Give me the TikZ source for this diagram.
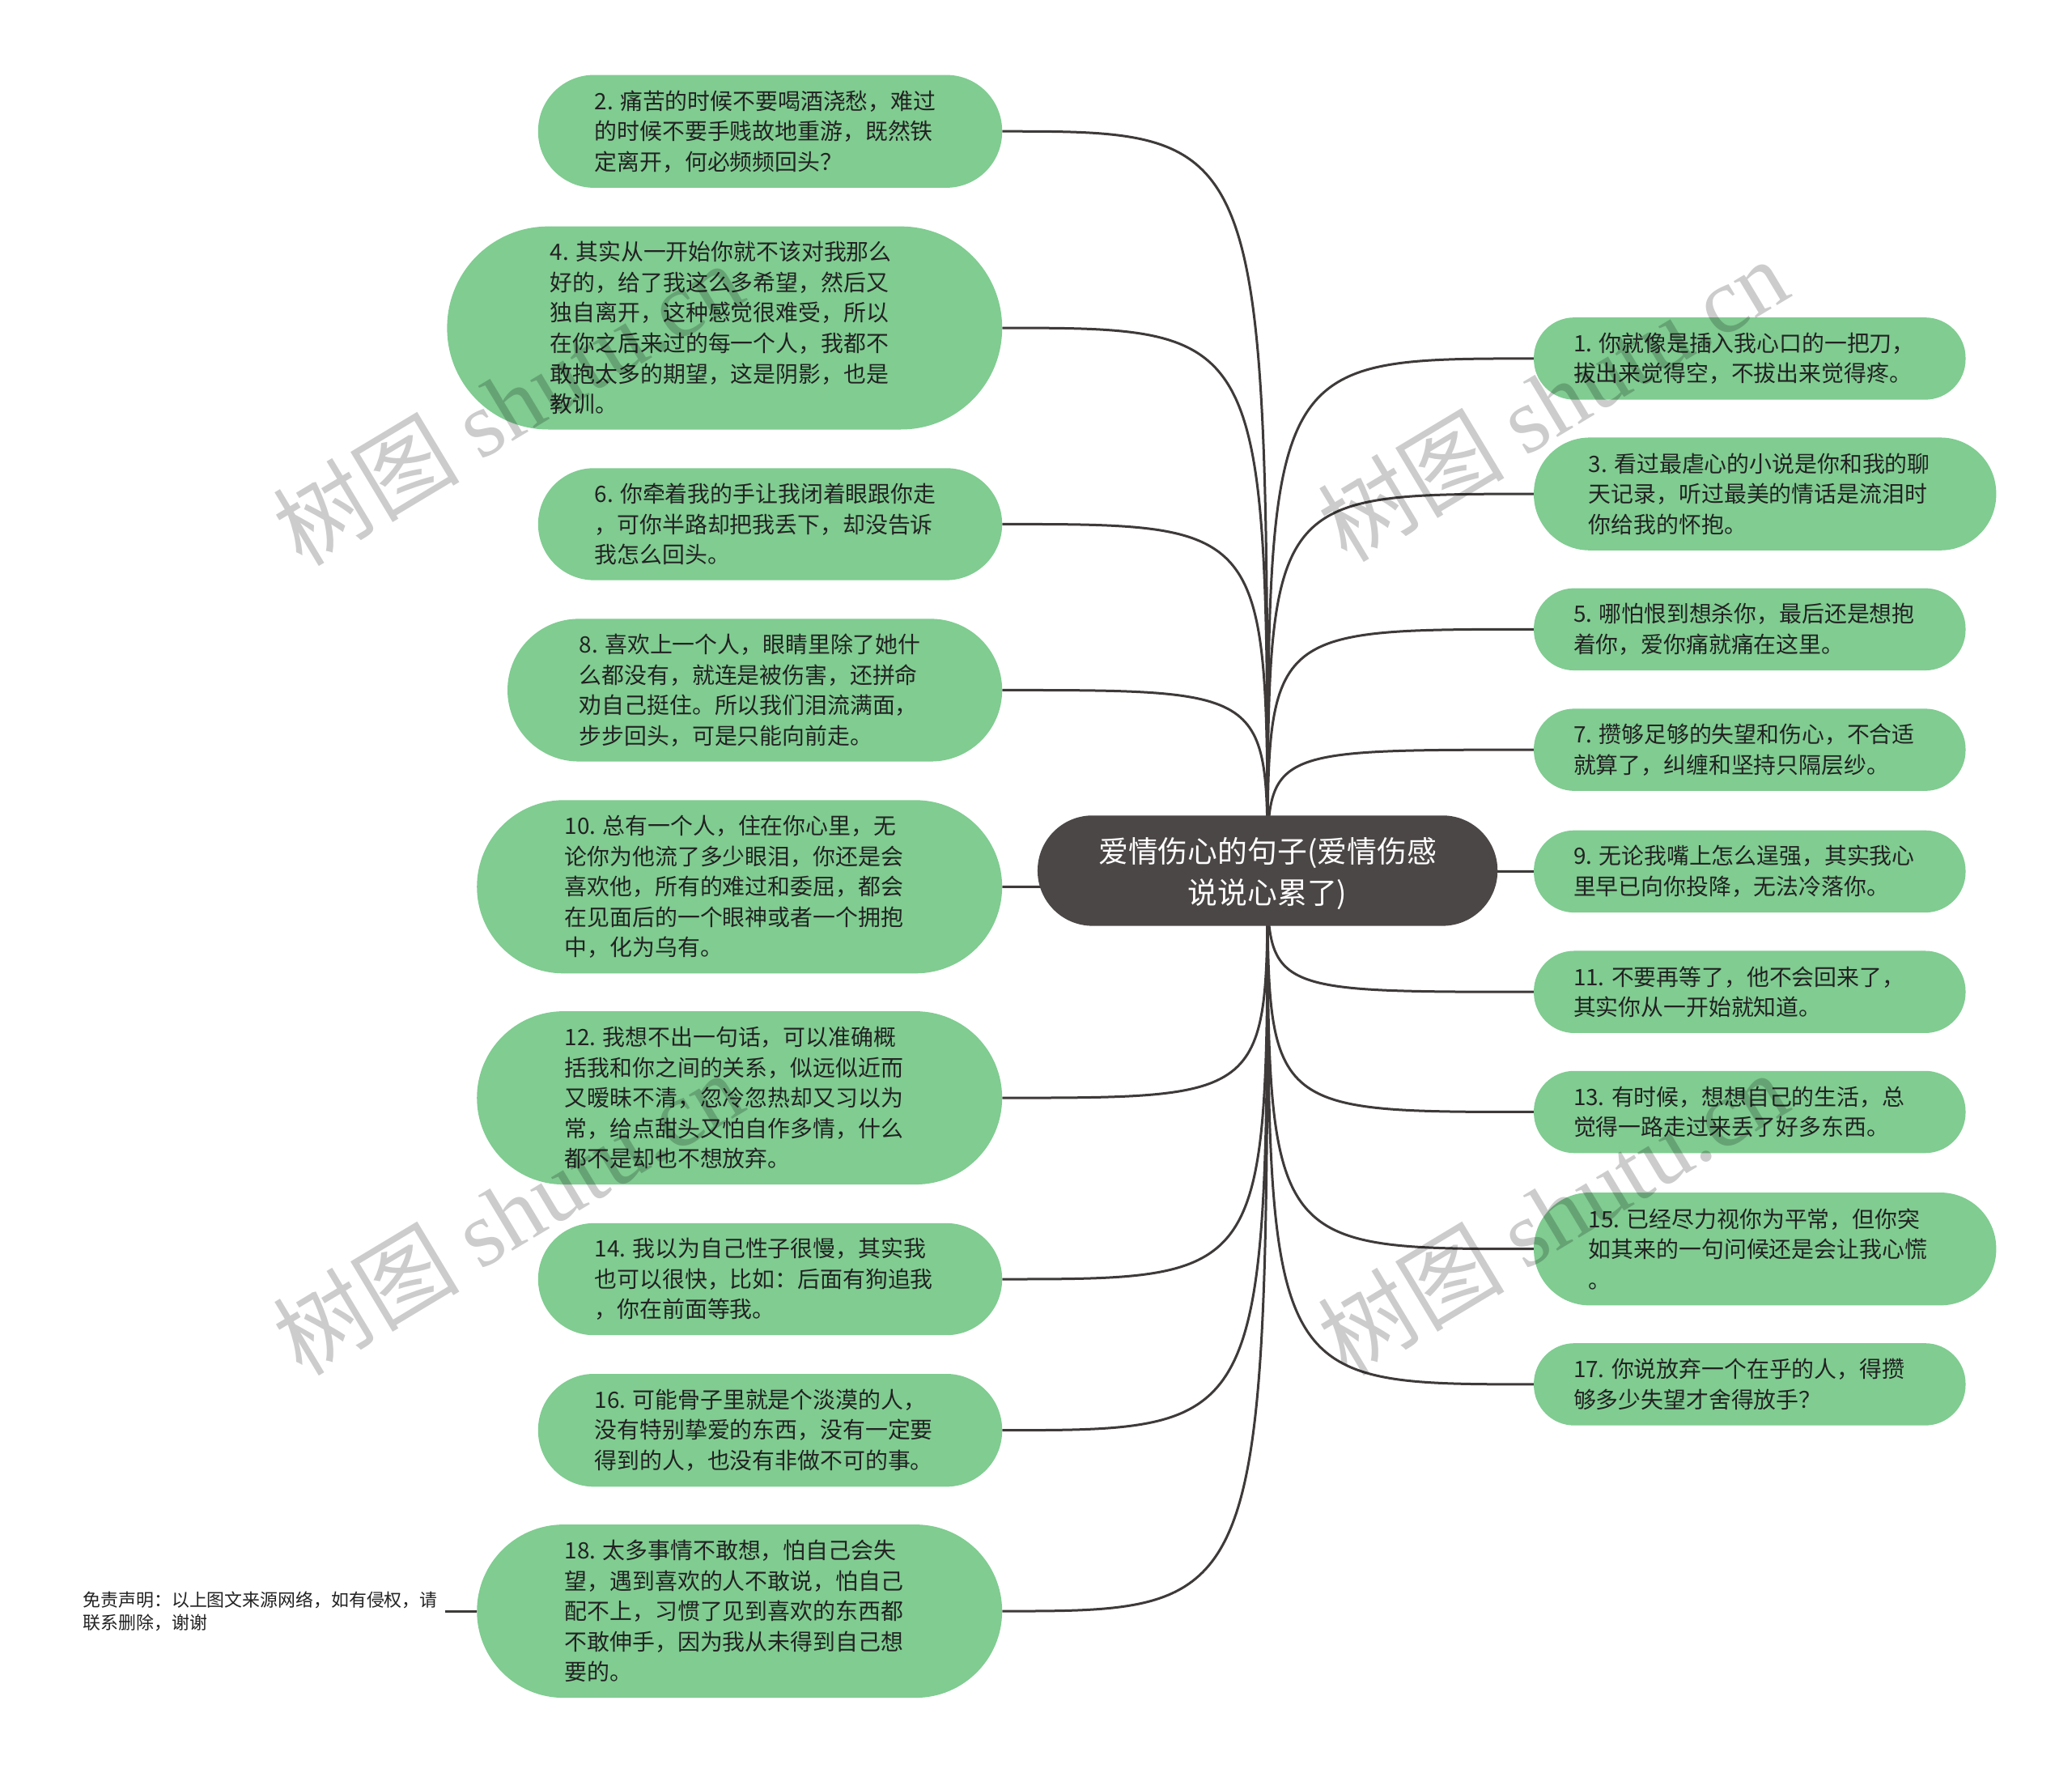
\documentclass[tikz,border=0pt]{standalone}
\usepackage{fontspec}
\setmainfont{Noto Sans CJK SC}
\newfontfamily\wmserif{Liberation Serif}
\usetikzlibrary{backgrounds}
\definecolor{leaf}{HTML}{80CC91}
\definecolor{rootc}{HTML}{4C4747}
\definecolor{linec}{HTML}{3E3A3A}
\definecolor{txtc}{HTML}{222222}
\begin{document}
\begin{tikzpicture}[x=1pt,y=-1pt, scale=0.9953, transform shape,
  leafbox/.style={fill=leaf, draw=none, inner sep=0pt},
  leaftxt/.style={anchor=west, align=left, inner sep=0pt, text=txtc, font=\fontsize{28pt}{37.7pt}\selectfont},
  rootbox/.style={fill=rootc, draw=none, inner sep=0pt, rounded corners=68pt, minimum width=571pt, minimum height=137pt},
  roottxt/.style={align=center, inner sep=0pt, text=white, font=\fontsize{37pt}{51pt}\selectfont},
  conn/.style={draw=linec, line width=3pt},
  disctxt/.style={anchor=west, align=left, inner sep=0pt, text=txtc, font=\fontsize{22pt}{28pt}\selectfont},
  wm/.style={anchor=base west, rotate=31, inner sep=0pt, text=black, text opacity=0.2, font=\fontsize{116pt}{116pt}\selectfont}
]
\useasboundingbox (0,0) rectangle (2572.1,2200.3);

% root
\node[rootbox] (root) at (1573.5,1080.5) {};
\node[roottxt] (troot) at (1573.5,1084) {爱情伤心的句子(爱情伤感\\说说心累了)};

% left nodes
\node[leafbox, minimum width=576pt, minimum height=140pt, rounded corners=69pt] (n2) at (956,163) {};
\node[leaftxt] (t2) at (738,163) {2. 痛苦的时候不要喝酒浇愁，难过\\的时候不要手贱故地重游，既然铁\\定离开，何必频频回头？};

\node[leafbox, minimum width=689pt, minimum height=252pt, rounded corners=125pt] (n4) at (899.5,407) {};
\node[leaftxt] (t4) at (683,407) {4. 其实从一开始你就不该对我那么\\好的，给了我这么多希望，然后又\\独自离开，这种感觉很难受，所以\\在你之后来过的每一个人，我都不\\敢抱太多的期望，这是阴影，也是\\教训。};

\node[leafbox, minimum width=576pt, minimum height=139pt, rounded corners=69pt] (n6) at (956,650.5) {};
\node[leaftxt] (t6) at (738,650.5) {6. 你牵着我的手让我闭着眼跟你走\\，可你半路却把我丢下，却没告诉\\我怎么回头。};

\node[leafbox, minimum width=614pt, minimum height=177pt, rounded corners=88pt] (n8) at (937,856.5) {};
\node[leaftxt] (t8) at (719,856.5) {8. 喜欢上一个人，眼睛里除了她什\\么都没有，就连是被伤害，还拼命\\劝自己挺住。所以我们泪流满面，\\步步回头，可是只能向前走。};

\node[leafbox, minimum width=652pt, minimum height=215pt, rounded corners=107pt] (n10) at (918,1100.5) {};
\node[leaftxt] (t10) at (701,1100.5) {10. 总有一个人，住在你心里，无\\论你为他流了多少眼泪，你还是会\\喜欢他，所有的难过和委屈，都会\\在见面后的一个眼神或者一个拥抱\\中，化为乌有。};

\node[leafbox, minimum width=652pt, minimum height=215pt, rounded corners=107pt] (n12) at (918,1362.5) {};
\node[leaftxt] (t12) at (701,1362.5) {12. 我想不出一句话，可以准确概\\括我和你之间的关系，似远似近而\\又暧昧不清，忽冷忽热却又习以为\\常，给点甜头又怕自作多情，什么\\都不是却也不想放弃。};

\node[leafbox, minimum width=576pt, minimum height=139pt, rounded corners=69pt] (n14) at (956,1587.5) {};
\node[leaftxt] (t14) at (738,1587.5) {14. 我以为自己性子很慢，其实我\\也可以很快，比如：后面有狗追我\\，你在前面等我。};

\node[leafbox, minimum width=576pt, minimum height=140pt, rounded corners=69pt] (n16) at (956,1775) {};
\node[leaftxt] (t16) at (738,1775) {16. 可能骨子里就是个淡漠的人，\\没有特别挚爱的东西，没有一定要\\得到的人，也没有非做不可的事。};

\node[leafbox, minimum width=652pt, minimum height=215pt, rounded corners=107pt] (n18) at (918,1999.5) {};
\node[leaftxt] (t18) at (701,1999.5) {18. 太多事情不敢想，怕自己会失\\望，遇到喜欢的人不敢说，怕自己\\配不上，习惯了见到喜欢的东西都\\不敢伸手，因为我从未得到自己想\\要的。};

% right nodes
\node[leafbox, minimum width=536pt, minimum height=102pt, rounded corners=50pt] (n1) at (2172,445) {};
\node[leaftxt] (t1) at (1953,445) {1. 你就像是插入我心口的一把刀，\\拔出来觉得空，不拔出来觉得疼。};

\node[leafbox, minimum width=574pt, minimum height=140pt, rounded corners=69pt] (n3) at (2191,613) {};
\node[leaftxt] (t3) at (1972,613) {3. 看过最虐心的小说是你和我的聊\\天记录，听过最美的情话是流泪时\\你给我的怀抱。};

\node[leafbox, minimum width=536pt, minimum height=102pt, rounded corners=50pt] (n5) at (2172,781) {};
\node[leaftxt] (t5) at (1953,781) {5. 哪怕恨到想杀你，最后还是想抱\\着你，爱你痛就痛在这里。};

\node[leafbox, minimum width=536pt, minimum height=102pt, rounded corners=50pt] (n7) at (2172,930.5) {};
\node[leaftxt] (t7) at (1953,930.5) {7. 攒够足够的失望和伤心，不合适\\就算了，纠缠和坚持只隔层纱。};

\node[leafbox, minimum width=536pt, minimum height=102pt, rounded corners=50pt] (n9) at (2172,1081.5) {};
\node[leaftxt] (t9) at (1953,1081.5) {9. 无论我嘴上怎么逞强，其实我心\\里早已向你投降，无法冷落你。};

\node[leafbox, minimum width=536pt, minimum height=102pt, rounded corners=50pt] (n11) at (2172,1231) {};
\node[leaftxt] (t11) at (1953,1231) {11. 不要再等了，他不会回来了，\\其实你从一开始就知道。};

\node[leafbox, minimum width=536pt, minimum height=102pt, rounded corners=50pt] (n13) at (2172,1380) {};
\node[leaftxt] (t13) at (1953,1380) {13. 有时候，想想自己的生活，总\\觉得一路走过来丢了好多东西。};

\node[leafbox, minimum width=574pt, minimum height=140pt, rounded corners=69pt] (n15) at (2191,1550) {};
\node[leaftxt] (t15) at (1972,1550) {15. 已经尽力视你为平常，但你突\\如其来的一句问候还是会让我心慌\\。};

\node[leafbox, minimum width=536pt, minimum height=102pt, rounded corners=50pt] (n17) at (2172,1718) {};
\node[leaftxt] (t17) at (1953,1718) {17. 你说放弃一个在乎的人，得攒\\够多少失望才舍得放手？};

% disclaimer
\node[disctxt] (disc) at (103,2000) {免责声明：以上图文来源网络，如有侵权，请\\联系删除，谢谢};
\coordinate (discend) at (553,1999.5);

% background and connectors
\begin{pgfonlayer}{background}
\fill[white] (0,0) rectangle (2572.1,2200.3);
\foreach \n in {n2,n4,n6,n8,n10,n12,n14,n16,n18}
  \draw[conn] (root.center) .. controls (root.center |- \n.east) .. (\n.east);
\foreach \n in {n1,n3,n5,n7,n9,n11,n13,n15,n17}
  \draw[conn] (root.center) .. controls (root.center |- \n.west) .. (\n.west);
\draw[conn] (n18.west) -- (discend);
\end{pgfonlayer}

% watermarks
\node[wm] (wm1) at (375,705) {树图 {\wmserif shutu.cn}};
\node[wm] (wm2) at (1672,700) {树图 {\wmserif shutu.cn}};
\node[wm] (wm3) at (375,1710) {树图 {\wmserif shutu.cn}};
\node[wm] (wm4) at (1672,1710) {树图 {\wmserif shutu.cn}};
\end{tikzpicture}
\end{document}
